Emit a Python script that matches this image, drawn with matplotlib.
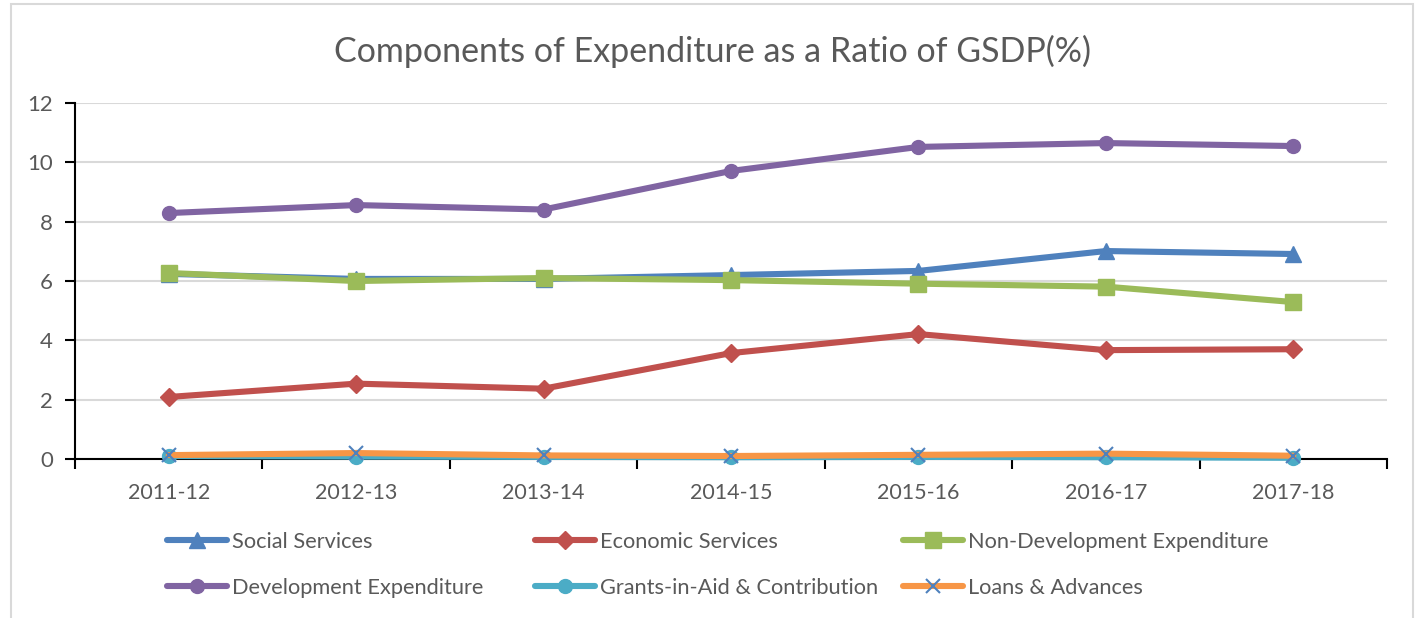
import matplotlib
matplotlib.use("Agg")
import matplotlib.pyplot as plt
from matplotlib.patches import Rectangle
from matplotlib.ticker import FixedLocator

plt.rcParams['font.family'] = ['Lato', 'DejaVu Sans']

years = ["2011-12", "2012-13", "2013-14", "2014-15", "2015-16", "2016-17", "2017-18"]
social = [6.24, 6.07, 6.07, 6.20, 6.34, 7.01, 6.91]
economic = [2.09, 2.54, 2.37, 3.57, 4.21, 3.67, 3.70]
non_dev = [6.27, 6.00, 6.10, 6.03, 5.91, 5.81, 5.29]
development = [8.29, 8.56, 8.41, 9.71, 10.52, 10.65, 10.55]
grants = [0.10, 0.08, 0.07, 0.06, 0.07, 0.06, 0.04]
loans = [0.13, 0.20, 0.12, 0.10, 0.14, 0.18, 0.11]

series = [
    ("Social Services", social, "#4f81bd", "^", "#4f81bd", 11),
    ("Economic Services", economic, "#c0504d", "D", "#c0504d", 9),
    ("Non-Development Expenditure", non_dev, "#9bbb59", "s", "#9bbb59", 12),
    ("Development Expenditure", development, "#8064a2", "o", "#8064a2", 10),
    ("Grants-in-Aid & Contribution", grants, "#4bacc6", "o", "#4bacc6", 10),
    ("Loans & Advances", loans, "#f79646", "x", "#4f81bd", 10),
]

fig = plt.figure(figsize=(14.2, 6.18), dpi=100)
ax = fig.add_axes([0.0528, 0.2573, 0.9240, 0.5760])

x = list(range(len(years)))
handles = []
for name, vals, col, mk, mcol, ms in series:
    h, = ax.plot(x, vals, color=col, linewidth=4.4, marker=mk, markersize=ms,
                 markerfacecolor=mcol, markeredgecolor=mcol,
                 markeredgewidth=1.5 if mk == "x" else 1,
                 label=name, solid_capstyle='round', solid_joinstyle='round',
                 clip_on=False, zorder=3)
    handles.append(h)

ax.set_xlim(-0.5, len(years) - 0.5)
ax.set_ylim(0, 12)
ax.set_yticks([0, 2, 4, 6, 8, 10, 12])
ax.set_xticks(x)
ax.set_xticklabels(years)
ax.xaxis.set_minor_locator(FixedLocator([i - 0.5 for i in range(len(years) + 1)]))
ax.tick_params(axis='x', which='major', length=0, pad=17, labelsize=15.5, labelcolor="#595959")
ax.tick_params(axis='x', which='minor', length=7, width=1.5, color="black", direction='out')
ax.tick_params(axis='y', which='major', length=7, width=1.5, color="black", pad=9,
               labelsize=16, labelcolor="#595959")
ax.yaxis.grid(True, color="#d9d9d9", linewidth=1.5)
ax.set_axisbelow(True)
for s in ["top", "right"]:
    ax.spines[s].set_visible(False)
ax.spines["left"].set_linewidth(1.5)
ax.spines["bottom"].set_linewidth(1.5)

fig.text(0.5015, 0.917, "Components of Expenditure as a Ratio of GSDP(%)",
         ha="center", va="center", fontsize=24.5, color="#595959")

col_x = [167 / 1420, 535 / 1420, 903 / 1420]
for i in range(3):
    hs = [handles[i], handles[i + 3]]
    fig.legend(hs, [h.get_label() for h in hs], loc="center left",
               bbox_to_anchor=(col_x[i], 1 - 565 / 618), ncol=1, frameon=False,
               fontsize=15.7, handlelength=2.75, handletextpad=0.25,
               labelspacing=1.2, borderpad=0, borderaxespad=0,
               labelcolor="#595959")

fig.patches.append(Rectangle((11 / 1420, -0.05), (1413 - 11) / 1420, 1.05 - 4 / 618,
                             transform=fig.transFigure, fill=False,
                             edgecolor="#d9d9d9", linewidth=1.5, clip_on=False))

fig.savefig("out.png", dpi=100, facecolor="white")
